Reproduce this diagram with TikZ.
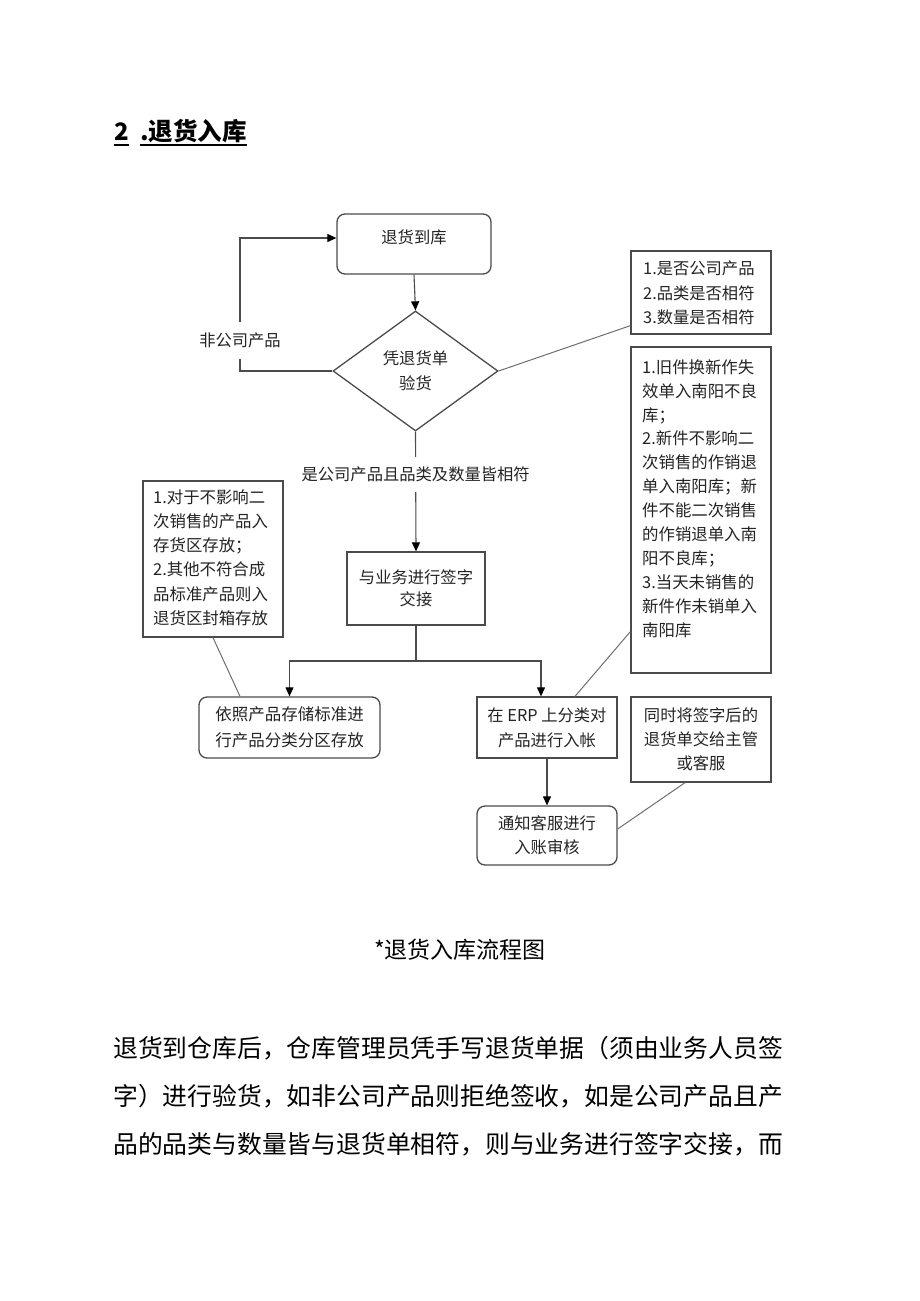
\documentclass[tikz,border=0pt]{standalone}
\usepackage{fontspec}
\setmainfont{Noto Sans CJK SC}
\usetikzlibrary{shapes.geometric,arrows.meta}
\definecolor{linec}{RGB}{75,75,75}
\definecolor{txtc}{RGB}{35,35,35}
\definecolor{thinc}{RGB}{110,110,110}
\tikzset{
  box/.style={draw=linec, line width=1.3pt, inner sep=0pt, align=center, text=txtc},
  rbox/.style={box, rounded corners=8pt},
  notebox/.style={draw=linec, line width=1.3pt, inner sep=0pt, text=txtc},
  ntxt/.style={align=left, inner sep=0pt, text=txtc, font=\fontsize{16.3}{24.2}\selectfont},
  arr/.style={draw=linec, line width=1.1pt, -{Triangle[length=9pt,width=8pt,fill=black,color=black]}},
  conn/.style={draw=linec, line width=1.1pt},
  thinl/.style={draw=thinc, line width=1pt},
  lbl/.style={fill=white, inner xsep=2pt, text=txtc, font=\fontsize{16.3}{20}\selectfont}
}
\begin{document}
\begin{tikzpicture}[x=1pt,y=-1pt]
\useasboundingbox (0,0) rectangle (920,1301);

% title
\node[anchor=base west, inner sep=0pt, font=\fontsize{24}{28}\selectfont\bfseries] (t2) at (114,140) {2};
\node[anchor=base west, inner sep=0pt, font=\fontsize{24.5}{28}\selectfont\bfseries] (ttl) at (140,140) {.退货入库};
\draw[line width=1.8pt] (t2.west |- 0,145) -- (t2.east |- 0,145);
\draw[line width=1.8pt] (ttl.west |- 0,145) -- (ttl.east |- 0,145);

% boxes
\node[rbox, minimum width=154pt, minimum height=60pt] (b1) at (414,244) {};
\node[inner sep=0pt, text=txtc, font=\fontsize{16.3}{20}\selectfont] (b1t) at (414,237) {退货到库};

\node[draw=linec, line width=1.3pt, diamond, inner sep=0pt, minimum width=165pt, minimum height=120pt, align=center, text=txtc, font=\fontsize{16.3}{25}\selectfont] (d) at (415.5,371) {凭退货单\\验货};

\node[notebox, minimum width=140pt, minimum height=83pt] (n1) at (701,292.5) {};
\node[ntxt, anchor=west, font=\fontsize{16.3}{24.5}\selectfont] (n1t) at (643,293) {1.是否公司产品\\2.品类是否相符\\3.数量是否相符};

\node[notebox, minimum width=140pt, minimum height=326pt] (n2) at (701,510) {};
\node[ntxt, anchor=west, font=\fontsize{16.4}{23.9}\selectfont] (n2t) at (642,498.5) {1.旧件换新作失\\效单入南阳不良\\库；\\2.新件不影响二\\次销售的作销退\\单入南阳库；新\\件不能二次销售\\的作销退单入南\\阳不良库；\\3.当天未销售的\\新件作未销单入\\南阳库};

\node[notebox, minimum width=140pt, minimum height=156pt] (nl) at (213,559) {};
\node[ntxt, anchor=west, font=\fontsize{16.4}{24.2}\selectfont] (nlt) at (153,557.5) {1.对于不影响二\\次销售的产品入\\存货区存放；\\2.其他不符合成\\品标准产品则入\\退货区封箱存放};

\node[box, minimum width=138pt, minimum height=73pt, font=\fontsize{16.3}{22}\selectfont] (b2) at (416,588.5) {与业务进行签字\\交接};

\node[rbox, minimum width=181pt, minimum height=61pt, font=\fontsize{16.5}{26}\selectfont] (st) at (289.5,727.5) {依照产品存储标准进\\行产品分类分区存放};

\node[box, minimum width=140pt, minimum height=61pt, font=\fontsize{16.3}{25}\selectfont] (erp) at (547,727.5) {在 ERP 上分类对\\产品进行入帐};

\node[notebox, minimum width=140pt, minimum height=85pt, align=center, font=\fontsize{16.3}{24}\selectfont] (n3) at (701,739.5) {同时将签字后的\\退货单交给主管\\或客服};

\node[rbox, minimum width=140pt, minimum height=59pt, font=\fontsize{16.3}{24}\selectfont] (tz) at (547,835.5) {通知客服进行\\入账审核};

% connectors
\draw[arr] (b1.south) -- (d.north);
\draw[arr] (d.west) -- (240,371) -- node[lbl, pos=0.23, inner ysep=11pt] (lf) {非公司产品} (240,238) -- ([yshift=6pt]b1.west);
\draw[thinl] (d.east) -- ([yshift=9pt]n1.south west);
\draw[arr] (d.south) -- node[lbl, pos=0.36, inner ysep=10pt] (ly) {是公司产品且品类及数量皆相符} (b2.north);
\coordinate (split) at (416,661);
\draw[conn] (b2.south) -- (split);
\draw[arr] (split) -| (st.north);
\draw[arr] (split) -| ([xshift=-6pt]erp.north);
\draw[thinl] (nl.south) -- ([xshift=-49.5pt]st.north);
\draw[thinl] ([xshift=28pt]erp.north) -- ([yshift=42pt]n2.south west);
\draw[arr] (erp.south) -- (tz.north);
\draw[thinl] ([yshift=6.5pt]tz.east) -- ([xshift=-16pt]n3.south);

% caption
\node[inner sep=0pt, font=\fontsize{23}{28}\selectfont] (cap) at (460,950) {*退货入库流程图};

% paragraph
\node[anchor=west, inner sep=0pt, font=\fontsize{24.8}{30}\selectfont] (p1) at (113,1048) {退货到仓库后，仓库管理员凭手写退货单据（须由业务人员签};
\node[anchor=west, inner sep=0pt, font=\fontsize{24.8}{30}\selectfont] (p2) at (113,1096) {字）进行验货，如非公司产品则拒绝签收，如是公司产品且产};
\node[anchor=west, inner sep=0pt, font=\fontsize{24.8}{30}\selectfont] (p3) at (113,1144) {品的品类与数量皆与退货单相符，则与业务进行签字交接，而};
\end{tikzpicture}
\end{document}
